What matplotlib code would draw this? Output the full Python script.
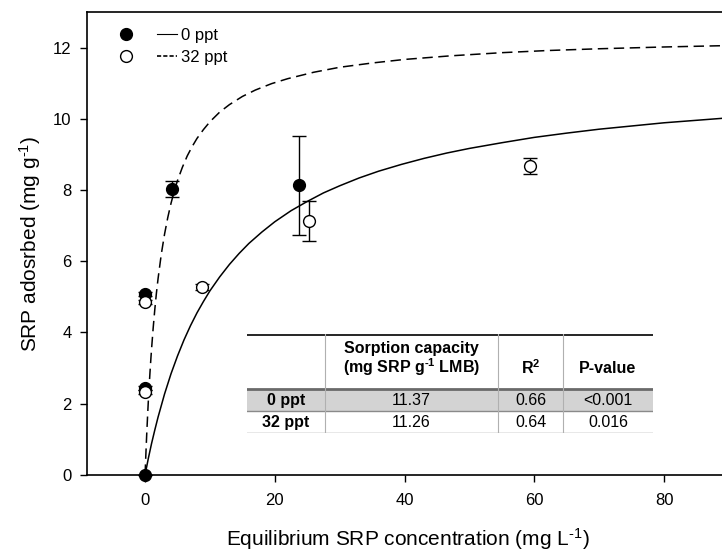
import matplotlib
matplotlib.use("Agg")
import matplotlib.pyplot as plt
from matplotlib.lines import Line2D

plt.rcParams['font.family'] = ['Liberation Sans', 'DejaVu Sans']
plt.rcParams['mathtext.default'] = 'regular'
plt.rcParams['lines.scale_dashes'] = False

# measured sorption, 0 ppt (filled) and 32 ppt (open)
c_0ppt = [0.0, 0.0, 0.0, 4.1, 23.8]
q_0ppt = [0.0, 2.44, 5.08, 8.03, 8.14]
err_0ppt = [0.0, 0.05, 0.05, 0.23, 1.39]

c_32ppt = [0.0, 0.0, 8.7, 25.2, 59.3]
q_32ppt = [2.33, 4.85, 5.28, 7.14, 8.68]
err_32ppt = [0.05, 0.05, 0.08, 0.56, 0.23]

# fitted curves
fit_c_0ppt = [0, 0.25, 0.5, 1, 1.5, 2, 3, 4, 5, 6, 7, 8, 9, 10, 11.5, 13, 14.5, 16, 18, 20,
              22.5, 25, 27.5, 30, 33, 36, 39.5, 43, 46.5, 50, 55, 60, 65, 70, 75, 80, 85, 90]
fit_q_0ppt = [0, 0.23, 0.46, 0.88, 1.26, 1.62, 2.27, 2.84, 3.34, 3.79, 4.19, 4.55, 4.87, 5.17,
              5.56, 5.91, 6.22, 6.50, 6.82, 7.11, 7.42, 7.68, 7.92, 8.12, 8.34, 8.53, 8.72,
              8.89, 9.04, 9.17, 9.33, 9.48, 9.60, 9.71, 9.80, 9.89, 9.96, 10.03]
fit_c_32ppt = [0, 0.1, 0.25, 0.4, 0.5, 0.6, 0.75, 0.9, 1, 1.25, 1.5, 1.75, 2, 2.5, 3, 3.5, 4,
               4.5, 5, 5.75, 6.5, 7.25, 8, 9, 10, 11.5, 13, 15, 17, 19.5, 22, 26, 30, 35, 40,
               47, 55, 62, 70, 80, 90]
fit_q_32ppt = [0, 0.48, 1.13, 1.71, 2.07, 2.40, 2.86, 3.28, 3.54, 4.13, 4.65, 5.11, 5.51, 6.20,
               6.76, 7.23, 7.63, 7.97, 8.27, 8.64, 8.96, 9.22, 9.45, 9.70, 9.92, 10.19, 10.40,
               10.63, 10.81, 10.99, 11.13, 11.31, 11.45, 11.57, 11.67, 11.77, 11.86, 11.92,
               11.97, 12.02, 12.06]

# inset table
row_names = ['0 ppt', '32 ppt']
capacity = ['11.37', '11.26']
r_squared = ['0.66', '0.64']
p_values = ['<0.001', '0.016']

W, H = 722, 553
fig = plt.figure(figsize=(W / 100, H / 100), dpi=100)
ax = fig.add_axes([86.7 / W, 1 - 474.8 / H, 642.2 / W, 462.7 / H])

ax.plot(fit_c_0ppt, fit_q_0ppt, color='k', lw=1.1, zorder=2)
ax.plot(fit_c_32ppt, fit_q_32ppt, color='k', lw=1.1, dashes=(7.5, 4), zorder=2)

ax.errorbar(c_0ppt, q_0ppt, yerr=err_0ppt, fmt='o', ms=8.5, mfc='k', mec='k',
            ecolor='k', elinewidth=1, capsize=4.7, capthick=1, zorder=3, clip_on=False)
ax.errorbar(c_32ppt, q_32ppt, yerr=err_32ppt, fmt='o', ms=8.5, mfc='white', mec='k',
            mew=1, ecolor='k', elinewidth=1, capsize=4.7, capthick=1, zorder=4, clip_on=False)

ax.set_xlim(-9, 90)
ax.set_ylim(0, 13)
ax.set_xticks([0, 20, 40, 60, 80])
ax.set_yticks([0, 2, 4, 6, 8, 10, 12])
ax.tick_params(direction='out', length=5, width=1, labelsize=12, pad=6)
ax.tick_params(axis='x', pad=8)
ax.spines['right'].set_visible(False)
for s in ['left', 'bottom', 'top']:
    ax.spines[s].set_linewidth(1.2)

ax.set_xlabel('Equilibrium SRP concentration (mg L$^{\u2010 1}$)', fontsize=15, labelpad=13)
ax.set_ylabel('SRP adosrbed (mg g$^{\u2010 1}$)', fontsize=15, labelpad=7)

h_filled = Line2D([], [], ls='none', marker='o', ms=8.5, mfc='k', mec='k')
h_open = Line2D([], [], ls='none', marker='o', ms=8.5, mfc='white', mec='k')
h_solid = Line2D([], [], color='k', lw=0.8)
h_dash = Line2D([], [], color='k', lw=1.2, dashes=(3, 1.5))
ax.legend([h_filled, h_open, h_solid, h_dash], ['', '', '0 ppt', '32 ppt'], ncol=2,
          loc='upper left', bbox_to_anchor=(0.035, 0.981), frameon=False, fontsize=12,
          handlelength=1.2, handletextpad=0.25, columnspacing=1.0, labelspacing=0.45,
          borderaxespad=0)

# table drawn in its own pixel-space axes
t0, t1, top, bot = 247, 653, 334, 433
tab = fig.add_axes([t0 / W, 1 - bot / H, (t1 - t0) / W, (bot - top) / H])
tab.set_xlim(t0, t1)
tab.set_ylim(bot, top)
tab.axis('off')
cols = [247, 325, 498, 563, 653]
head_bot, row_sep = 389, 411
tab.fill_between([cols[0], cols[-1]], head_bot, row_sep, color='#d3d3d3', lw=0)
tab.plot([t0, t1], [top + 0.5, top + 0.5], color='k', lw=1.2)
tab.plot([t0, t1], [head_bot, head_bot], color='#6a6a6a', lw=2)
tab.plot([t0, t1], [row_sep, row_sep], color='#8a8a8a', lw=1)
tab.plot([t0, t1], [bot - 0.5, bot - 0.5], color='#8a8a8a', lw=1)
for cx in cols[1:-1]:
    tab.plot([cx, cx], [top, bot], color='#b0b0b0', lw=0.8)
centers = [(cols[i] + cols[i + 1]) / 2 for i in range(4)]
fs = 11.5
tab.text(centers[1], 348, 'Sorption capacity', ha='center', va='center', fontsize=fs,
         fontweight='bold')
tab.text(centers[1], 367, '(mg SRP g$^{\u2010 1}$ LMB)', ha='center', va='center', fontsize=fs,
         fontweight='bold')
tab.text(centers[2], 368, 'R$^2$', ha='center', va='center', fontsize=fs, fontweight='bold')
tab.text(centers[3], 368, 'P-value', ha='center', va='center', fontsize=fs, fontweight='bold')
for i, y in enumerate([400, 422]):
    tab.text(centers[0], y, row_names[i], ha='center', va='center', fontsize=fs,
             fontweight='bold')
    tab.text(centers[1], y, capacity[i], ha='center', va='center', fontsize=fs)
    tab.text(centers[2], y, r_squared[i], ha='center', va='center', fontsize=fs)
    tab.text(centers[3], y, p_values[i], ha='center', va='center', fontsize=fs)

fig.savefig('out.png', dpi=100)
